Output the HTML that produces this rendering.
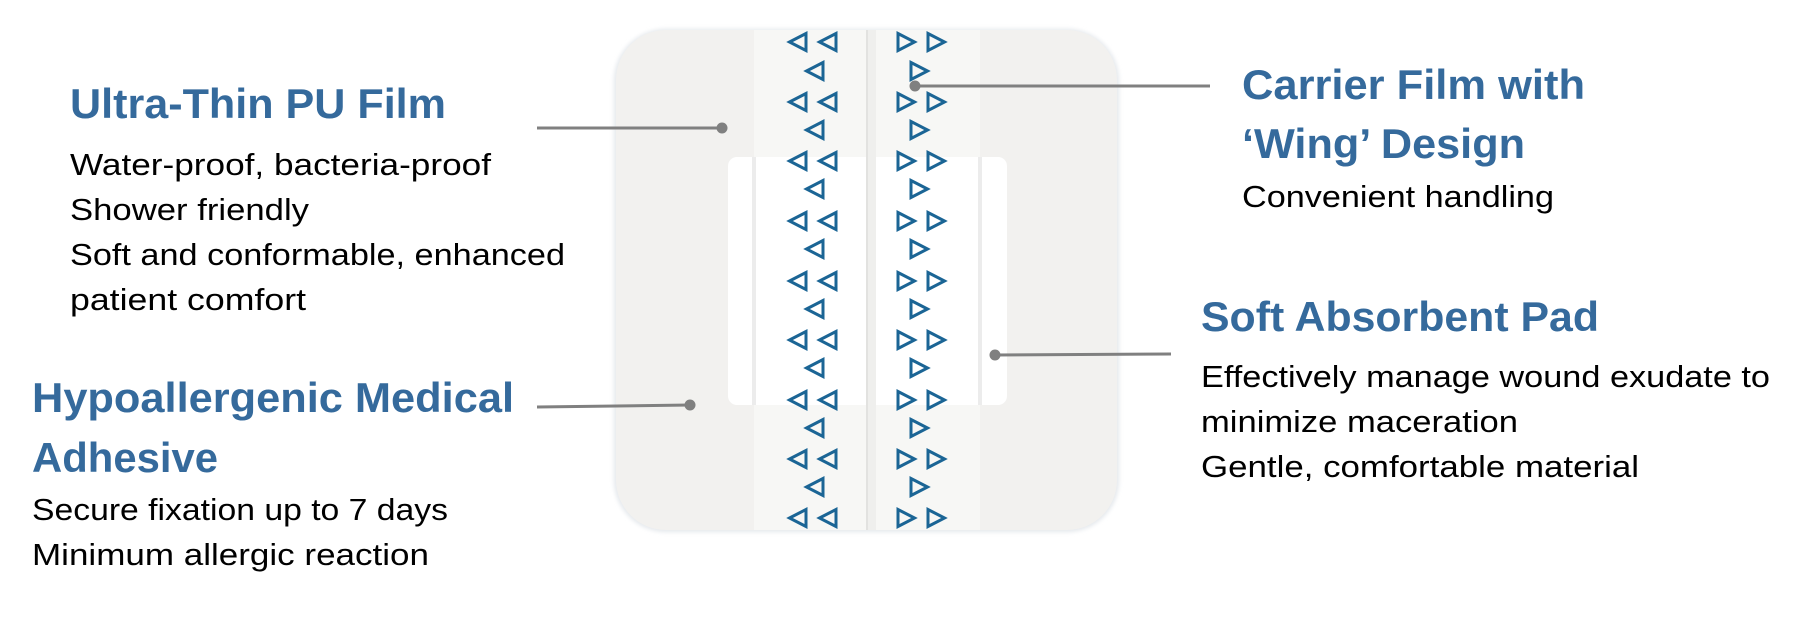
<!DOCTYPE html>
<html><head><meta charset="utf-8"><style>
html,body{margin:0;padding:0;background:#fff;}
svg{display:block;}
.t{font-family:"Liberation Sans",sans-serif;font-weight:bold;fill:#356a9c;font-size:42px;}
.b{font-family:"Liberation Sans",sans-serif;fill:#000;font-size:31px;}
</style></head><body>
<svg width="1809" height="636" viewBox="0 0 1809 636" xmlns="http://www.w3.org/2000/svg">
<defs>
<filter id="sh" x="-5%" y="-5%" width="110%" height="110%"><feGaussianBlur stdDeviation="2"/></filter>
<g id="L"><polygon points="1.5,10 18,1.5 18,18.5" fill="none" stroke="#1b6595" stroke-width="3" stroke-linejoin="miter"/></g>
<g id="R"><polygon points="16.5,10 0,1.5 0,18.5" fill="none" stroke="#1b6595" stroke-width="3" stroke-linejoin="miter"/></g>
</defs>
<rect x="614" y="29" width="505" height="503" rx="52" fill="#e4e8ec" filter="url(#sh)"/>
<rect x="616" y="30" width="501" height="500" rx="50" fill="#f2f1ef"/>
<rect x="754" y="30" width="226" height="500" fill="#f7f7f5"/>
<rect x="728" y="157" width="279" height="248" rx="9" fill="#fff"/>
<rect x="752" y="157" width="4" height="248" fill="#ececec"/>
<rect x="978" y="157" width="4" height="248" fill="#ececec"/>
<rect x="866" y="30" width="10" height="500" fill="#efefed"/>
<rect x="866" y="30" width="2" height="500" fill="#e2e2e0"/>
<g>
<use href="#L" x="788" y="32"/><use href="#L" x="818" y="32"/><use href="#R" x="898" y="32"/><use href="#R" x="928" y="32"/>
<use href="#L" x="805" y="61"/><use href="#R" x="911" y="61"/>
<use href="#L" x="788" y="92"/><use href="#L" x="818" y="92"/><use href="#R" x="898" y="92"/><use href="#R" x="928" y="92"/>
<use href="#L" x="805" y="120"/><use href="#R" x="911" y="120"/>
<use href="#L" x="788" y="151"/><use href="#L" x="818" y="151"/><use href="#R" x="898" y="151"/><use href="#R" x="928" y="151"/>
<use href="#L" x="805" y="179"/><use href="#R" x="911" y="179"/>
<use href="#L" x="788" y="211"/><use href="#L" x="818" y="211"/><use href="#R" x="898" y="211"/><use href="#R" x="928" y="211"/>
<use href="#L" x="805" y="239"/><use href="#R" x="911" y="239"/>
<use href="#L" x="788" y="271"/><use href="#L" x="818" y="271"/><use href="#R" x="898" y="271"/><use href="#R" x="928" y="271"/>
<use href="#L" x="805" y="299"/><use href="#R" x="911" y="299"/>
<use href="#L" x="788" y="330"/><use href="#L" x="818" y="330"/><use href="#R" x="898" y="330"/><use href="#R" x="928" y="330"/>
<use href="#L" x="805" y="358"/><use href="#R" x="911" y="358"/>
<use href="#L" x="788" y="390"/><use href="#L" x="818" y="390"/><use href="#R" x="898" y="390"/><use href="#R" x="928" y="390"/>
<use href="#L" x="805" y="418"/><use href="#R" x="911" y="418"/>
<use href="#L" x="788" y="449"/><use href="#L" x="818" y="449"/><use href="#R" x="898" y="449"/><use href="#R" x="928" y="449"/>
<use href="#L" x="805" y="477"/><use href="#R" x="911" y="477"/>
<use href="#L" x="788" y="508"/><use href="#L" x="818" y="508"/><use href="#R" x="898" y="508"/><use href="#R" x="928" y="508"/>
</g>
<g stroke="#808080" stroke-width="3">
<line x1="537" y1="128" x2="722" y2="128"/>
<line x1="537" y1="407" x2="690" y2="405"/>
<line x1="915" y1="86" x2="1210" y2="86"/>
<line x1="995" y1="355" x2="1171" y2="354"/>
</g>
<g fill="#808080">
<circle cx="722" cy="128" r="5.5"/><circle cx="690" cy="405" r="5.5"/><circle cx="915" cy="86" r="5.5"/><circle cx="995" cy="355" r="5.5"/>
</g>
<text class="t" x="70" y="118" textLength="376" lengthAdjust="spacingAndGlyphs">Ultra-Thin PU Film</text>
<text class="b" x="70" y="175" textLength="421" lengthAdjust="spacingAndGlyphs">Water-proof, bacteria-proof</text>
<text class="b" x="70" y="220" textLength="239" lengthAdjust="spacingAndGlyphs">Shower friendly</text>
<text class="b" x="70" y="265" textLength="495" lengthAdjust="spacingAndGlyphs">Soft and conformable, enhanced</text>
<text class="b" x="70" y="310" textLength="236" lengthAdjust="spacingAndGlyphs">patient comfort</text>
<text class="t" x="32" y="412" textLength="482" lengthAdjust="spacingAndGlyphs">Hypoallergenic Medical</text>
<text class="t" x="32" y="472" textLength="186" lengthAdjust="spacingAndGlyphs">Adhesive</text>
<text class="b" x="32" y="520" textLength="416" lengthAdjust="spacingAndGlyphs">Secure fixation up to 7 days</text>
<text class="b" x="32" y="565" textLength="397" lengthAdjust="spacingAndGlyphs">Minimum allergic reaction</text>
<text class="t" x="1242" y="99" textLength="343" lengthAdjust="spacingAndGlyphs">Carrier Film with</text>
<text class="t" x="1242" y="158" textLength="283" lengthAdjust="spacingAndGlyphs">‘Wing’ Design</text>
<text class="b" x="1242" y="207" textLength="312" lengthAdjust="spacingAndGlyphs">Convenient handling</text>
<text class="t" x="1201" y="331" textLength="398" lengthAdjust="spacingAndGlyphs">Soft Absorbent Pad</text>
<text class="b" x="1201" y="387" textLength="569" lengthAdjust="spacingAndGlyphs">Effectively manage wound exudate to</text>
<text class="b" x="1201" y="432" textLength="317" lengthAdjust="spacingAndGlyphs">minimize maceration</text>
<text class="b" x="1201" y="477" textLength="438" lengthAdjust="spacingAndGlyphs">Gentle, comfortable material</text>
</svg>
</body></html>
